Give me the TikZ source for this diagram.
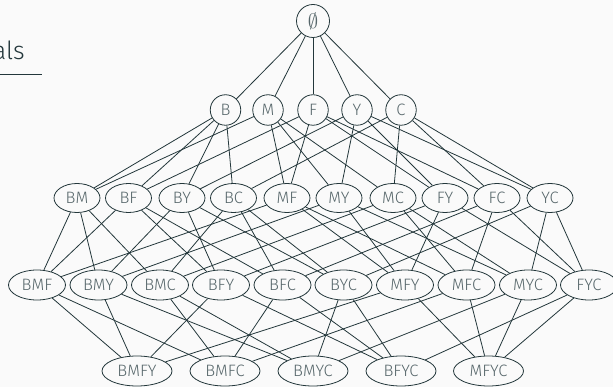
\documentclass[tikz,border=0pt]{standalone}
\usepackage{fontspec}
\IfFontExistsTF{Fira Sans Light}{\setmainfont{Fira Sans Light}}{\setmainfont{Fira Sans}}
\usetikzlibrary{shapes.geometric}
\definecolor{darkteal}{HTML}{23373B}
\definecolor{labelgray}{HTML}{56666A}
\definecolor{bgpaper}{HTML}{FAFAFA}
\tikzset{
  setnode/.style={draw=darkteal, line width=0.8pt, text=labelgray, font=\fontsize{16.5}{17}\selectfont, inner sep=0pt},
  single/.style={setnode, circle, minimum size=30.5pt},
  pairset/.style={setnode, ellipse, minimum width=46pt, minimum height=29pt},
  tripleset/.style={setnode, ellipse, minimum width=57pt, minimum height=30pt},
  quadset/.style={setnode, ellipse, minimum width=70pt, minimum height=30pt},
  hasse/.style={draw=darkteal, line width=0.8pt}
}
\begin{document}
\begin{tikzpicture}[x=1pt,y=-1pt]
  \fill[bgpaper] (0,0) rectangle (613,387);
  \useasboundingbox (0,0) rectangle (613,387);

  % frame title remnant
  \node[anchor=base east, inner sep=0pt, text=darkteal, font=\fontsize{25}{25}\selectfont] (title) at (25,60) {als};
  \coordinate (ruleA) at (0,74);
  \coordinate (ruleB) at (42,74);
  \draw[darkteal, line width=0.7pt] (ruleA) -- (ruleB);

  % empty set
  \node[setnode, circle, minimum size=33pt, font=\fontsize{20}{20}\selectfont] (E) at (313,21) {$\emptyset$};

  % singletons
  \foreach \n/\x in {B/225.5, M/268, F/313, Y/357, C/401}
    \node[single] (\n) at (\x,110) {\n};

  % pairs
  \foreach \n/\x in {BM/77, BF/128.5, BY/182, BC/233.5, MF/287, MY/339, MC/393, FY/445, FC/497, YC/550}
    \node[pairset] (\n) at (\x,198) {\n};

  % triples
  \foreach \n/\x in {BMF/37, BMY/98.5, BMC/160, BFY/221, BFC/282.5, BYC/343.5, MFY/405, MFC/466.5, MYC/528, FYC/589}
    \node[tripleset] (\n) at (\x,285) {\n};

  % quadruples
  \foreach \n/\x in {BMFY/137, BMFC/225, BMYC/313, BFYC/401, MFYC/488.5}
    \node[quadset] (\n) at (\x,371) {\n};

  % covering relations
  \foreach \c in {B,M,F,Y,C}
    \draw[hasse] (E) -- (\c);
  \foreach \c/\ps in {BM/{B,M}, BF/{B,F}, BY/{B,Y}, BC/{B,C}, MF/{M,F}, MY/{M,Y}, MC/{M,C}, FY/{F,Y}, FC/{F,C}, YC/{Y,C},
      BMF/{BM,BF,MF}, BMY/{BM,BY,MY}, BMC/{BM,BC,MC}, BFY/{BF,BY,FY}, BFC/{BF,BC,FC},
      BYC/{BY,BC,YC}, MFY/{MF,MY,FY}, MFC/{MF,MC,FC}, MYC/{MY,MC,YC}, FYC/{FY,FC,YC},
      BMFY/{BMF,BMY,BFY,MFY}, BMFC/{BMF,BMC,BFC,MFC}, BMYC/{BMY,BMC,BYC,MYC},
      BFYC/{BFY,BFC,BYC,FYC}, MFYC/{MFY,MFC,MYC,FYC}}
    \foreach \p in \ps
      \draw[hasse] (\p) -- (\c);
\end{tikzpicture}
\end{document}
